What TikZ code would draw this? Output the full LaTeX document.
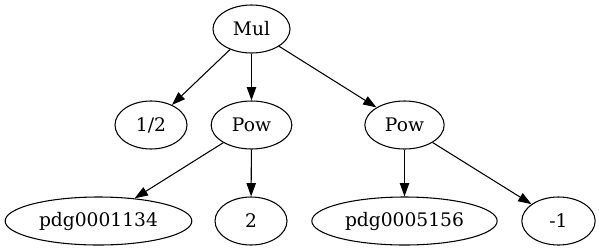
\documentclass[tikz,border=0pt]{standalone}
\usepackage{fontspec}
\setmainfont{DejaVu Serif}
\usepackage{tikz}
\usetikzlibrary{shapes.geometric,arrows.meta}

\begin{document}
\begin{tikzpicture}[x=0.75pt,y=-0.75pt,
    term/.style={ellipse, draw, line width=0.8pt, inner sep=0pt,
      minimum height=36pt, font=\fontsize{14}{16}\selectfont},
    edge/.style={line width=0.8pt, -{Triangle[length=10pt,width=7pt]}}]
\useasboundingbox (0,0) rectangle (599,251);
% first row
\node[term, minimum width=57.75pt] (mul) at (251.5,29) {Mul};
% second row
\node[term, minimum width=54pt] (half) at (151,125) {1/2};
\node[term, minimum width=60.5pt] (powa) at (251.5,125) {Pow};
\node[term, minimum width=59.5pt] (powb) at (404.5,125) {Pow};
% third row
\node[term, minimum width=140pt] (pdga) at (98.5,221) {pdg0001134};
\node[term, minimum width=54pt] (two) at (251,221) {2};
\node[term, minimum width=139pt] (pdgb) at (404.5,221) {pdg0005156};
\node[term, minimum width=55pt] (minusone) at (558.5,221) {-1};
% edges
\draw[edge] (mul) -- (half);
\draw[edge] (mul) -- (powa);
\draw[edge] (mul) -- (powb);
\draw[edge] (powa) -- (pdga);
\draw[edge] (powa) -- (two);
\draw[edge] (powb) -- (pdgb);
\draw[edge] (powb) -- (minusone);
\end{tikzpicture}
\end{document}
